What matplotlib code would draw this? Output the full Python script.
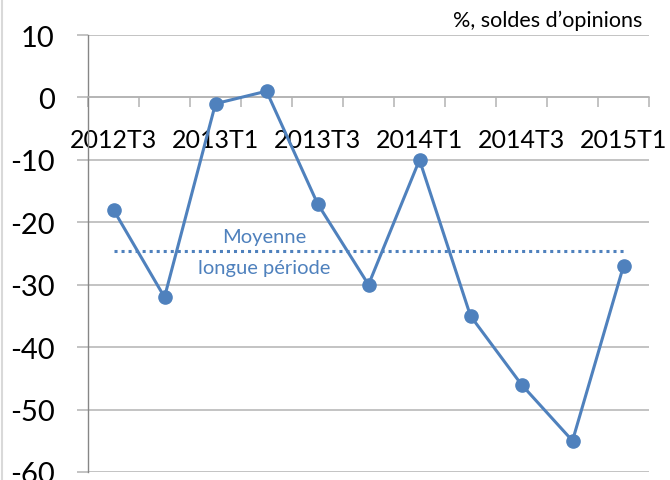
import numpy as np
import matplotlib
matplotlib.use("Agg")
import matplotlib.pyplot as plt

# -------------------------
# Data
# -------------------------
quarters = ["2012T3", "2012T4", "2013T1", "2013T2", "2013T3", "2013T4",
            "2014T1", "2014T2", "2014T3", "2014T4", "2015T1"]
soldes = [-18, -32, -1, 1, -17, -30, -10, -35, -46, -55, -27]
moyenne_lp = -24.6
y_ticks = [10, 0, -10, -20, -30, -40, -50, -60]

blue = "#4F81BD"
grid_gray = "#B3B3B3"
axis_gray = "#868686"

plt.rcParams['font.family'] = ['Lato', 'DejaVu Sans']

fig = plt.figure(figsize=(6.7, 4.81), dpi=100)
W, H = 670, 481
ax = fig.add_axes([88 / W, (H - 473) / H, (649 - 88) / W, (473 - 36) / H])

x = np.arange(len(quarters))

# horizontal gridlines
for v in y_ticks:
    ax.axhline(v, color=grid_gray, lw=1.1, zorder=1)

# mean line + label
ax.plot([x[0], x[-1]], [moyenne_lp, moyenne_lp], color=blue, lw=2.2,
        linestyle=(0, (1, 1.3)), zorder=2)
ax.text(2.95, -22.2, "Moyenne", color=blue, fontsize=14.5, ha="center", va="center")
ax.text(2.95, -27.2, "longue période", color=blue, fontsize=14.5, ha="center", va="center")

# series
ax.plot(x, soldes, color=blue, lw=2.2, marker="o", markersize=9.5, zorder=3)

ax.set_xlim(-0.5, len(quarters) - 0.5)
ax.set_ylim(-60, 10)

# y axis
ax.set_yticks(y_ticks)
ax.set_yticklabels([str(v) for v in y_ticks], fontsize=21)
ax.tick_params(axis="y", length=8, width=1.1, color=grid_gray, pad=16)
ax.spines["left"].set_color(axis_gray)
ax.spines["left"].set_linewidth(1.0)

# x axis crossing at zero
ax.spines["bottom"].set_position(("data", 0))
ax.spines["bottom"].set_color(grid_gray)
ax.spines["bottom"].set_linewidth(1.1)
ax.spines["top"].set_visible(False)
ax.spines["right"].set_visible(False)
ax.set_xticks(np.arange(-0.5, len(quarters), 1.0))
ax.set_xticklabels([])
ax.tick_params(axis="x", which="major", length=7, width=1.1, color=grid_gray,
               direction="out")
ax.set_xticks(x[::2], minor=True)
ax.set_xticklabels(quarters[::2], minor=True, fontsize=18)
ax.tick_params(axis="x", which="minor", length=0, pad=22)

fig.text(642 / W, 1 - 21 / H, "%, soldes d\u2019opinions", fontsize=15.5,
         ha="right", va="center")

# thin gray border at the left edge
fig.add_artist(plt.Line2D([2 / W, 2 / W], [0, 1], color="#D9D9D9", lw=1.5,
                          transform=fig.transFigure))

fig.savefig("out.png", dpi=100)
